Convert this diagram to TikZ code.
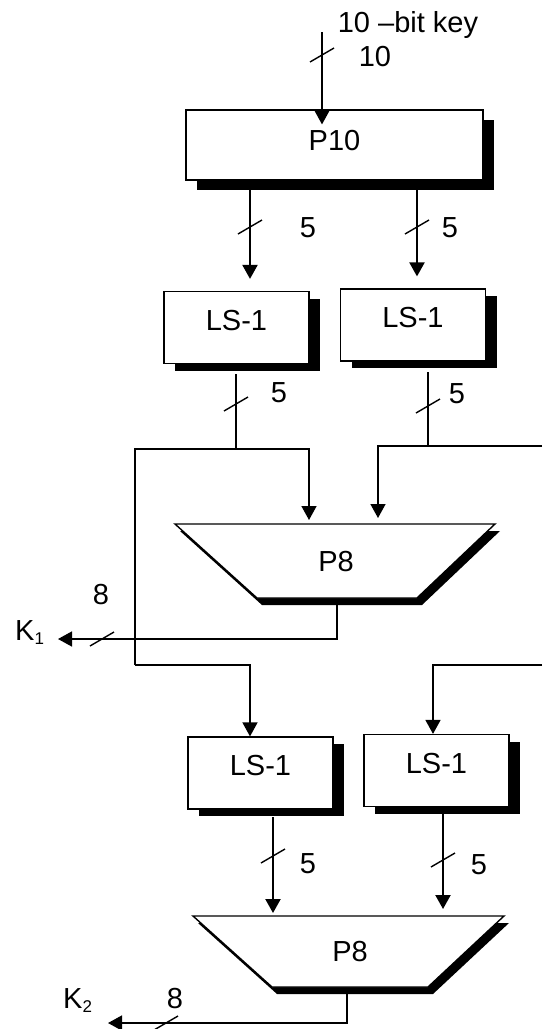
\documentclass[tikz,border=0pt]{standalone}
\usepackage{fontspec}
\setmainfont{Liberation Sans}
\usetikzlibrary{arrows.meta,shadows}
\newcommand{\ksub}[1]{\raisebox{-4pt}{\fontsize{17}{17}\selectfont#1}}
\begin{document}
\begin{tikzpicture}[x=1pt,y=-1pt,every node/.style={inner sep=0pt,font=\fontsize{29}{31}\selectfont},
 perm/.style={draw,line width=1.2pt,fill=white,minimum width=145pt,minimum height=72pt,text depth=15pt,drop shadow={shadow xshift=11pt,shadow yshift=-#1,fill=black,opacity=1}},perm/.default=7pt,
 trap/.style={line width=1.4pt,fill=white,drop shadow={shadow xshift=5pt,shadow yshift=-7pt,fill=black,opacity=1}},
 wire/.style={line width=1.5pt},arr/.style={wire,-{Triangle[length=14pt,width=15pt]}},fat/.style={arr,line width=2.1pt},
 tickmark/.style={line width=1.4pt}]
\useasboundingbox (0,0) rectangle (542,1029);
\node[perm=10pt,minimum width=297pt,minimum height=70pt,text depth=10pt] (p10) at (334.5,145) {P10};
\node[perm] (ls1a) at (236.5,327.5) {LS-1};\node[perm] (ls1b) at (413,325) {LS-1};
\node[perm] (ls2a) at (260.5,773) {LS-1};\node[perm] (ls2b) at (436.5,770.5) {LS-1};
\draw[trap] (175,524) coordinate (p8atl) -- (495,524) -- (417,598) -- (257,598) -- cycle;\node (p8a) at (336,562) {P8};
\draw[trap] (193,916) coordinate (p8btl) -- (504,916) -- (428,987) -- (272,987) -- cycle;\node (p8b) at (350,952) {P8};
\coordinate (key) at (322,32);\coordinate (o1) at (250,190);\coordinate (o2) at (417,190);
\coordinate (w1) at (236,374);\coordinate (j1) at (236,449);\coordinate (w2) at (428,372);\coordinate (j2) at (428,446);
\coordinate (b1) at (135,449);\coordinate (b2) at (135,665);\coordinate (r1) at (542,446);\coordinate (r2) at (542,665);
\coordinate (in1) at (309,524);\coordinate (in2) at (378,524);\coordinate (u1) at (273,817);\coordinate (u2) at (443,814);
\coordinate (q1) at (337,604);\coordinate (q2) at (347,994);\coordinate (k1) at (58,639);\coordinate (k2) at (108,1023);
\draw[arr,shorten >=-15pt] (key) -- (key |- p10.north);
\draw[fat,shorten >=12pt] (o1) -- (o1 |- ls1a.north);\draw[fat,shorten >=12pt] (o2) -- (o2 |- ls1b.north);
\draw[wire] (w1) -- (j1);\draw[wire] (w2) -- (j2);
\draw[arr,shorten >=4pt] (b2) -- (b1) -| (in1);\draw[arr,shorten >=6pt] (r1) -| (in2);
\draw[arr] (b2) -| ([xshift=-10.5pt]ls2a.north);\draw[arr] (r2) -| ([xshift=-3.5pt]ls2b.north);
\draw[arr] (q1) |- (k1);\draw[arr] (q2) |- (k2);
\draw[fat,shorten >=3pt] (u1) -- (u1 |- p8btl);\draw[fat,shorten >=7pt] (u2) -- (u2 |- p8btl);
\foreach \x/\y in {322/55,250/227,417/227,236/404,428/406,273/856,443/860,102/639,166/1023}{\draw[tickmark] ([shift={(-12,7)}]\x,\y) -- ([shift={(12,-7)}]\x,\y);}
\foreach \n/\x/\y/\t in {lkey/408/25/10 \textendash bit key,lten/375/57/10,lfa/308/228/5,lfb/450/228/5,lfc/279/393/5,lfd/457/394/5,lfe/308/864/5,lff/479/865/5,lea/101/595/8,leb/175/999/8}{\node (\n) at (\x,\y) {\t};}
\node[anchor=base west] (kone) at (15,640) {K\ksub{1}};\node[anchor=base west] (ktwo) at (63,1008) {K\ksub{2}};
\end{tikzpicture}
\end{document}
